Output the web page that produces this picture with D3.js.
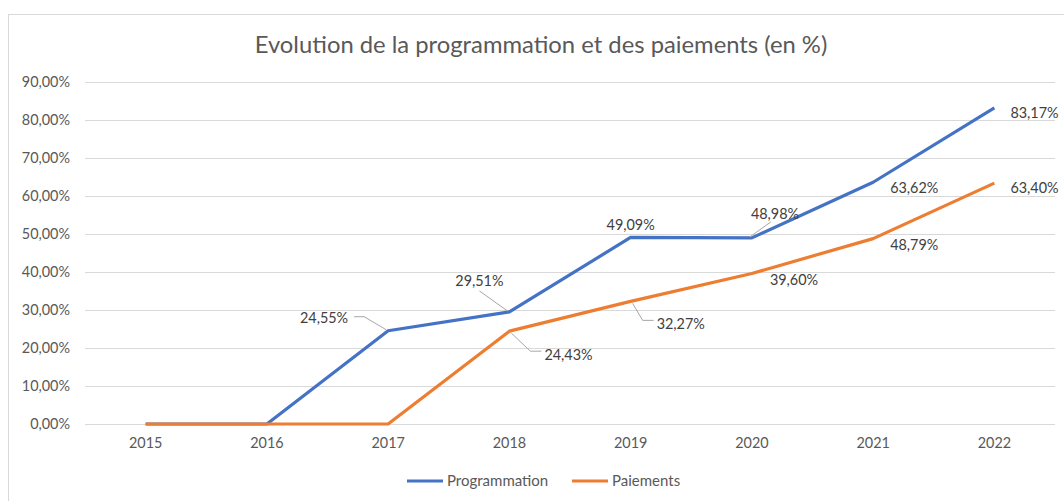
<!DOCTYPE html>
<html>
<head>
<meta charset="utf-8">
<script src="https://cdn.jsdelivr.net/npm/d3@7"></script>
<style>
  body { margin: 0; background: #fff; }
  svg { display: block; font-family: Lato, "Open Sans", sans-serif; }
</style>
</head>
<body>
<div id="chart"></div>
<script>
const width = 1064;
const height = 501;

const years = ["2015", "2016", "2017", "2018", "2019", "2020", "2021", "2022"];
const programmation = [0, 0, 24.55, 29.51, 49.09, 48.98, 63.62, 83.17];
const paiements = [0, 0, 0, 24.43, 32.27, 39.60, 48.79, 63.40];
const yTicks = [0, 10, 20, 30, 40, 50, 60, 70, 80, 90];

// which points get a label, and where it goes (dx, dy from the point, anchor, leader)
const progLabels = [
  null, null,
  { dx: -40, dy: -13, anchor: "end", leader: true },
  { dx: -30, dy: -31, anchor: "middle", leader: true },
  { dx: 0, dy: -12, anchor: "middle" },
  { dx: -1, dy: -24, anchor: "start", leader: true },
  { dx: 17, dy: 6, anchor: "start" },
  { dx: 16, dy: 5, anchor: "start" }
];
const paieLabels = [
  null, null, null,
  { dx: 35, dy: 24, anchor: "start", leader: true },
  { dx: 26, dy: 23, anchor: "start", leader: true },
  { dx: 18, dy: 6, anchor: "start" },
  { dx: 17, dy: 6, anchor: "start" },
  { dx: 16, dy: 5, anchor: "start" }
];

const series = [
  { name: "Programmation", values: programmation, color: "#4472C4", labels: progLabels },
  { name: "Paiements", values: paiements, color: "#ED7D31", labels: paieLabels }
];

const fmt = v => v.toFixed(2).replace(".", ",") + "%";

const margin = { left: 85, right: 9, top: 82, bottom: 77 };
const fontSize = "14.4px";

const x = d3.scaleBand()
  .domain(years)
  .range([margin.left, width - margin.right]);

const y = d3.scaleLinear()
  .domain([0, 90])
  .range([height - margin.bottom, margin.top]);

const svg = d3.select("#chart").append("svg")
  .attr("width", width)
  .attr("height", height);

// chart border
svg.append("rect")
  .attr("x", 8.5).attr("y", 14.5)
  .attr("width", width + 10).attr("height", height)
  .attr("fill", "none")
  .attr("stroke", "#d9d9d9");

svg.append("text")
  .attr("x", 541)
  .attr("y", 53)
  .attr("text-anchor", "middle")
  .style("font-size", "23.8px")
  .style("fill", "#595959")
  .text("Evolution de la programmation et des paiements (en %)");

// gridlines
svg.append("g")
  .selectAll("line")
  .data(yTicks)
  .join("line")
    .attr("x1", margin.left)
    .attr("x2", width - margin.right)
    .attr("y1", d => Math.round(y(d)) + 0.5)
    .attr("y2", d => Math.round(y(d)) + 0.5)
    .attr("stroke", "#d9d9d9")
    .attr("stroke-width", 1);

// y axis labels
const yAxis = svg.append("g")
  .attr("transform", `translate(${margin.left - 15},0)`)
  .call(d3.axisLeft(y).tickValues(yTicks).tickSize(0).tickFormat(fmt));
yAxis.select(".domain").remove();
yAxis.selectAll("text")
  .attr("x", 0)
  .attr("dy", "0.34em")
  .style("font-family", "Lato, 'Open Sans', sans-serif")
  .style("font-size", fontSize)
  .style("fill", "#595959");

// x axis labels
const xAxis = svg.append("g")
  .attr("transform", `translate(0,${y(0)})`)
  .call(d3.axisBottom(x).tickSize(0).tickPadding(14));
xAxis.select(".domain").remove();
xAxis.selectAll("text")
  .style("font-family", "Lato, 'Open Sans', sans-serif")
  .style("font-size", fontSize)
  .style("fill", "#595959");

const cx = i => x(years[i]) + x.bandwidth() / 2;

const line = d3.line()
  .x((d, i) => cx(i))
  .y(d => y(d));

svg.append("g")
  .selectAll("path")
  .data(series)
  .join("path")
    .attr("d", d => line(d.values))
    .attr("fill", "none")
    .attr("stroke", d => d.color)
    .attr("stroke-width", 3.2)
    .attr("stroke-linejoin", "round");

// data labels
series.forEach(s => {
  const pts = s.values.map((v, i) => ({ v, i, lab: s.labels[i] })).filter(p => p.lab);
  const g = svg.append("g");

  pts.filter(p => p.lab.leader).forEach(p => {
    const px = cx(p.i), py = y(p.v);
    const tx = px + p.lab.dx, ty = py + p.lab.dy;
    let pathD;
    if (p.lab.anchor === "end") {
      pathD = `M${tx + 6},${ty - 1}H${tx + 16}L${px - 2},${py - 1}`;
    } else if (p.lab.anchor === "middle") {
      pathD = `M${tx},${ty + 10}L${px - 2},${py - 1}`;
    } else if (p.lab.dy < 0) {
      pathD = `M${tx + 20},${ty + 8}L${px - 2},${py - 1}`;
    } else {
      pathD = `M${px + 2},${py + 2}L${tx - 14},${ty - 4}H${tx - 3}`;
    }
    g.append("path")
      .attr("d", pathD)
      .attr("fill", "none")
      .attr("stroke", "#a6a6a6")
      .attr("stroke-width", 1);
  });

  g.selectAll("text")
    .data(pts)
    .join("text")
      .attr("x", p => cx(p.i) + p.lab.dx)
      .attr("y", p => y(p.v) + p.lab.dy)
      .attr("dy", "0.35em")
      .attr("text-anchor", p => p.lab.anchor)
      .style("font-size", fontSize)
      .style("fill", "#404040")
      .text(p => fmt(p.v));
});

// legend
const legend = svg.append("g")
  .attr("transform", `translate(407,481)`);
const items = legend.selectAll("g")
  .data(series)
  .join("g")
    .attr("transform", (d, i) => `translate(${i * 165},0)`);
items.append("line")
  .attr("x1", 0).attr("x2", 36)
  .attr("stroke", d => d.color)
  .attr("stroke-width", 3.2);
items.append("text")
  .attr("x", 40)
  .attr("dy", "0.35em")
  .style("font-size", "15px")
  .style("fill", "#595959")
  .text(d => d.name);
</script>
</body>
</html>
